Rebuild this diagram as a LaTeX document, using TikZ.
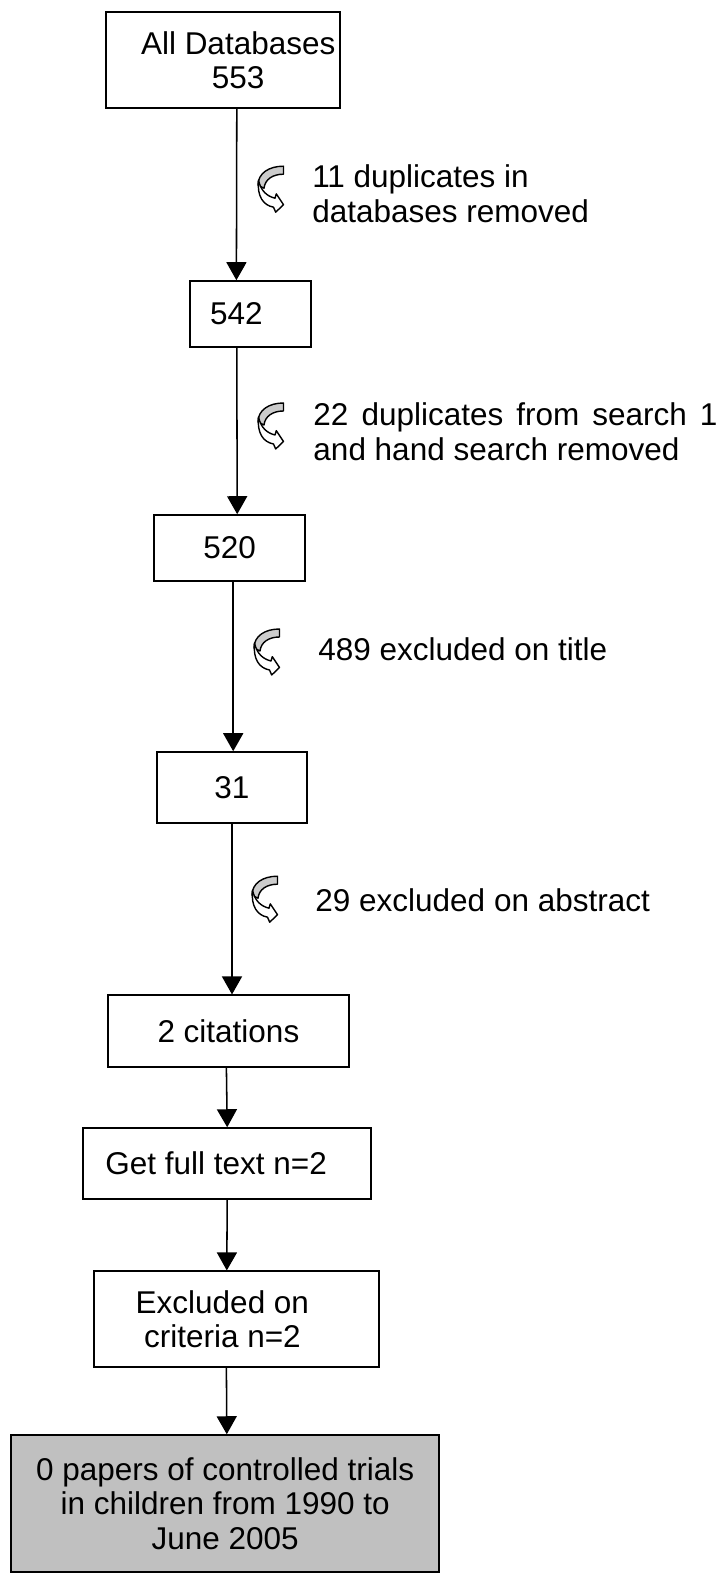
\documentclass[tikz,border=0pt]{standalone}
\usepackage{fontspec}
\setmainfont{Liberation Sans}
\usetikzlibrary{arrows.meta}

\definecolor{BoxGrey}{RGB}{192,192,192}
\definecolor{IconGrey}{RGB}{204,204,204}

\tikzset{
  turnicon/.pic={
    % back of the band
    \filldraw[fill=IconGrey, line width=1pt, line join=round, x=0.025cm, y=-0.025cm]
      (25.5,1) .. controls (11,1) and (0,8) .. (0,20) -- (6,23)
      .. controls (7,14) and (15,9) .. (25.5,9) -- cycle;
    % front of the band with its head
    \filldraw[fill=white, line width=1pt, line join=round, x=0.025cm, y=-0.025cm]
      (0.5,15) .. controls (3,26) and (9,31) .. (17,33) -- (18.3,28.7) -- (25.5,39.5)
      -- (17.7,47) -- (15.5,42) .. controls (5,40) and (-1,31) .. (0.5,15) -- cycle;
  }
}

\begin{document}
\begin{tikzpicture}[
    box/.style={draw, line width=1.1pt, inner sep=0pt, align=center, font=\fontsize{22.4}{24.5}\selectfont},
    note/.style={inner sep=0pt, align=left, font=\fontsize{22.4}{24.5}\selectfont},
    arr/.style={-{Triangle[width=0.5cm,length=0.45cm]}, line width=1.1pt}
]
        \useasboundingbox (0,0) rectangle (18,-39.35);

        % Search results
        \node[box, minimum width=5.85cm, minimum height=2.4cm] (all) at (5.58,-1.5) {\hspace*{0.75cm}All Databases\\\hspace*{0.75cm}553};
        \node[box, minimum width=3.03cm, minimum height=1.65cm] (n542) at (6.26,-7.85) {542\hspace*{0.7cm}};
        \node[box, minimum width=3.78cm, minimum height=1.65cm] (n520) at (5.74,-13.7) {520};
        \node[box, minimum width=3.75cm, minimum height=1.78cm] (n31) at (5.8,-19.69) {31};
        \node[box, minimum width=6.03cm, minimum height=1.8cm] (cit) at (5.71,-25.78) {2 citations};
        \node[box, minimum width=7.2cm, minimum height=1.78cm] (full) at (5.68,-29.09) {Get full text n=2\hspace*{0.55cm}};
        \node[box, minimum width=7.13cm, minimum height=2.4cm] (excl) at (5.91,-32.98) {Excluded on\hspace*{0.7cm}\\criteria n=2\hspace*{0.7cm}};
        \node[box, fill=BoxGrey, minimum width=10.7cm, minimum height=3.43cm] (final) at (5.63,-37.59) {0 papers of controlled trials\\in children from 1990 to\\June 2005};

        % Arrows
        \draw[arr] ([xshift=0.34cm]all.south) -- ([xshift=-0.35cm]n542.north);
        \draw[arr] ([xshift=-0.34cm]n542.south) -- ([xshift=0.19cm]n520.north);
        \draw[arr] ([xshift=0.09cm]n520.south) -- ([xshift=0.03cm]n31.north);
        \draw[arr] (n31.south) -- ([xshift=0.09cm]cit.north);
        \draw[arr] ([xshift=-0.05cm]cit.south) -- (full.north);
        \draw[arr] (full.south) -- ([xshift=-0.24cm]excl.north);
        \draw[arr] ([xshift=-0.25cm]excl.south) -- ([xshift=0.04cm]final.north);

        % Removed at each step
        \pic at (6.45,-4.13) {turnicon};
        \node[note, anchor=west] (dup1) at (7.8,-4.84) {11 duplicates in\\databases removed};
        \pic at (6.45,-10.05) {turnicon};
        \node[note, anchor=west] (dup2) at (7.83,-10.79) {\makebox[10.1cm][s]{22 duplicates from search 1}\\and hand search removed};
        \pic at (6.35,-15.7) {turnicon};
        \node[note, anchor=base west] (title) at (7.95,-16.5) {489 excluded on title};
        \pic at (6.3,-21.88) {turnicon};
        \node[note, anchor=base west] (abstr) at (7.88,-22.78) {29 excluded on abstract};
    \end{tikzpicture}
\end{document}
